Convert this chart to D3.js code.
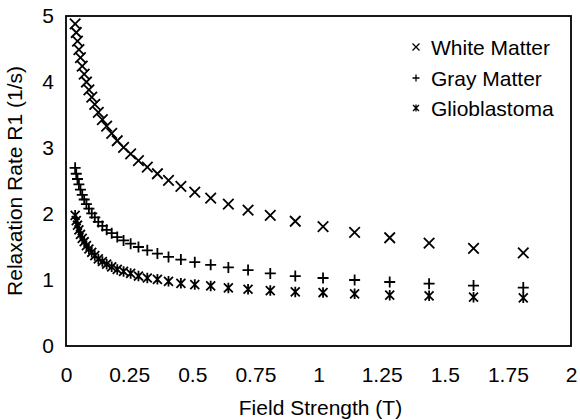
<!DOCTYPE html>
<html>
<head>
<meta charset="utf-8">
<script src="https://cdn.jsdelivr.net/npm/d3@7"></script>
<style>
  html, body { margin: 0; padding: 0; background: #fff; }
  svg { display: block; }
  text { font-family: "Liberation Sans", Arial, Helvetica, sans-serif; fill: #000; }
</style>
</head>
<body>
<svg id="chart" width="580" height="420"></svg>
<script>
// Field strength (T)
const fieldStrength = [0.0362, 0.0406, 0.0455, 0.0511, 0.0573, 0.0643, 0.0721, 0.0809, 0.0907, 0.102,
  0.114, 0.128, 0.144, 0.161, 0.181, 0.203, 0.228, 0.256, 0.287, 0.322,
  0.362, 0.406, 0.455, 0.510, 0.573, 0.643, 0.721, 0.809, 0.908, 1.018,
  1.143, 1.282, 1.438, 1.614, 1.811];

const whiteMatter = [4.88, 4.75, 4.62, 4.49, 4.37, 4.24, 4.12, 4.00, 3.88, 3.77,
  3.66, 3.54, 3.43, 3.33, 3.22, 3.11, 3.01, 2.91, 2.81, 2.71,
  2.61, 2.51, 2.42, 2.33, 2.24, 2.15, 2.06, 1.98, 1.89, 1.81,
  1.72, 1.64, 1.56, 1.48, 1.41];

const grayMatter = [2.70, 2.61, 2.53, 2.45, 2.37, 2.29, 2.22, 2.15, 2.08, 2.01,
  1.95, 1.88, 1.82, 1.76, 1.71, 1.65, 1.60, 1.55, 1.50, 1.45,
  1.40, 1.35, 1.31, 1.27, 1.23, 1.19, 1.15, 1.10, 1.06, 1.03,
  1.00, 0.97, 0.945, 0.915, 0.885];

const glioblastoma = [1.98, 1.90, 1.83, 1.76, 1.69, 1.63, 1.58, 1.52, 1.47, 1.42,
  1.37, 1.32, 1.28, 1.24, 1.20, 1.16, 1.13, 1.10, 1.06, 1.03,
  1.01, 0.98, 0.95, 0.93, 0.91, 0.88, 0.86, 0.84, 0.82, 0.81,
  0.79, 0.77, 0.76, 0.74, 0.73];

const seriesNames = ["White Matter", "Gray Matter", "Glioblastoma"];
const seriesMarkers = ["cross", "plus", "asterisk"];
const xTicks = [0, 0.25, 0.5, 0.75, 1, 1.25, 1.5, 1.75, 2];
const xTickLabels = ["0", "0.25", "0.5", "0.75", "1", "1.25", "1.5", "1.75", "2"];
const yTicks = [0, 1, 2, 3, 4, 5];
const xTitle = "Field Strength (T)";
const yTitle = "Relaxation Rate R1 (1/s)";

const seriesValues = [whiteMatter, grayMatter, glioblastoma];

const svg = d3.select("#chart");
const mLeft = 66, mRight = 571, mTop = 16, mBottom = 346;
const fontSize = 21;

const x = d3.scaleLinear().domain([0, 2]).range([mLeft, mRight]);
const y = d3.scaleLinear().domain([0, 5]).range([mBottom, mTop]);

function markerPath(type, s) {
  const h = s / 2;
  if (type === "cross") {
    return `M${-h},${-h}L${h},${h}M${-h},${h}L${h},${-h}`;
  } else if (type === "plus") {
    return `M${-h},0L${h},0M0,${-h}L0,${h}`;
  } else {
    const d = h * 0.85;
    return `M${-d},${-d}L${d},${d}M${-d},${d}L${d},${-d}M0,${-h}L0,${h}`;
  }
}

// Frame
svg.append("rect")
  .attr("x", mLeft).attr("y", mTop)
  .attr("width", mRight - mLeft).attr("height", mBottom - mTop)
  .attr("fill", "none").attr("stroke", "#000").attr("stroke-width", 1.8);

// X axis (labels only)
const xAxis = d3.axisBottom(x).tickValues(xTicks)
  .tickFormat((d, i) => xTickLabels[i]).tickSize(0).tickPadding(21);
const gx = svg.append("g").attr("transform", `translate(0,${mBottom})`).call(xAxis);
gx.select(".domain").remove();
gx.selectAll("text").attr("font-size", fontSize).attr("font-family", "Liberation Sans, Arial, sans-serif").attr("fill", "#000");

// Y axis (labels only)
const yAxis = d3.axisLeft(y).tickValues(yTicks).tickFormat(d3.format("d")).tickSize(0).tickPadding(12);
const gy = svg.append("g").attr("transform", `translate(${mLeft},0)`).call(yAxis);
gy.select(".domain").remove();
gy.selectAll("text").attr("font-size", fontSize).attr("font-family", "Liberation Sans, Arial, sans-serif").attr("fill", "#000");

// Axis titles
svg.append("text")
  .attr("x", (mLeft + mRight) / 2 + 2).attr("y", 415)
  .attr("text-anchor", "middle").attr("font-size", fontSize)
  .text(xTitle);

svg.append("text")
  .attr("transform", `translate(22,${(mTop + mBottom) / 2}) rotate(-90)`)
  .attr("text-anchor", "middle").attr("font-size", fontSize)
  .text(yTitle);

// Data markers
seriesValues.forEach((vals, si) => {
  const g = svg.append("g");
  g.selectAll("path")
    .data(vals.map((v, i) => [fieldStrength[i], v]))
    .join("path")
    .attr("transform", d => `translate(${x(d[0])},${y(d[1])})`)
    .attr("d", markerPath(seriesMarkers[si], seriesMarkers[si] === "plus" ? 11 : 10.5))
    .attr("fill", "none")
    .attr("stroke", "#000")
    .attr("stroke-width", 1.8);
});

// Legend
const legendY = [47, 78, 108];
seriesNames.forEach((name, i) => {
  svg.append("path")
    .attr("transform", `translate(416,${legendY[i]})`)
    .attr("d", markerPath(seriesMarkers[i], 7))
    .attr("fill", "none").attr("stroke", "#000").attr("stroke-width", 1.3);
  svg.append("text")
    .attr("x", 431).attr("y", legendY[i] + 7.5)
    .attr("font-size", fontSize)
    .text(name);
});
</script>
</body>
</html>
